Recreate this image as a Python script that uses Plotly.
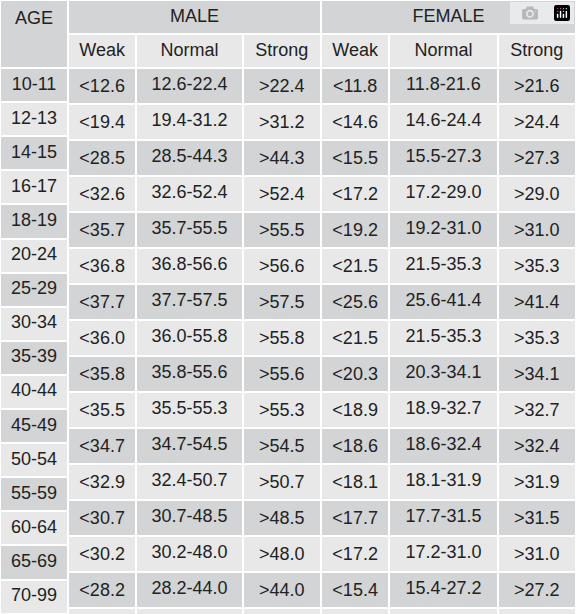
import plotly.graph_objects as go

ages = ["10-11", "12-13", "14-15", "16-17", "18-19", "20-24", "25-29", "30-34",
        "35-39", "40-44", "45-49", "50-54", "55-59", "60-64", "65-69", "70-99"]
male_weak = ["<12.6", "<19.4", "<28.5", "<32.6", "<35.7", "<36.8", "<37.7", "<36.0",
             "<35.8", "<35.5", "<34.7", "<32.9", "<30.7", "<30.2", "<28.2", "<21.3"]
male_normal = ["12.6-22.4", "19.4-31.2", "28.5-44.3", "32.6-52.4", "35.7-55.5", "36.8-56.6",
               "37.7-57.5", "36.0-55.8", "35.8-55.6", "35.5-55.3", "34.7-54.5", "32.4-50.7",
               "30.7-48.5", "30.2-48.0", "28.2-44.0", "21.3-35.1"]
male_strong = [">22.4", ">31.2", ">44.3", ">52.4", ">55.5", ">56.6", ">57.5", ">55.8",
               ">55.6", ">55.3", ">54.5", ">50.7", ">48.5", ">48.0", ">44.0", ">35.1"]
female_weak = ["<11.8", "<14.6", "<15.5", "<17.2", "<19.2", "<21.5", "<25.6", "<21.5",
               "<20.3", "<18.9", "<18.6", "<18.1", "<17.7", "<17.2", "<15.4", "<14.7"]
female_normal = ["11.8-21.6", "14.6-24.4", "15.5-27.3", "17.2-29.0", "19.2-31.0", "21.5-35.3",
                 "25.6-41.4", "21.5-35.3", "20.3-34.1", "18.9-32.7", "18.6-32.4", "18.1-31.9",
                 "17.7-31.5", "17.2-31.0", "15.4-27.2", "14.7-24.5"]
female_strong = [">21.6", ">24.4", ">27.3", ">29.0", ">31.0", ">35.3", ">41.4", ">35.3",
                 ">34.1", ">32.7", ">32.4", ">31.9", ">31.5", ">31.0", ">27.2", ">24.5"]
groups = ["MALE", "FEMALE"]
sub_headers = ["Weak", "Normal", "Strong", "Weak", "Normal", "Strong"]

DARK = "#d3d4d6"
LIGHT = "#e8e8e9"
TXT = "#222222"
W, H = 576, 614
font = dict(family="Liberation Sans, Arial", size=18, color=TXT)
row_fill = [DARK if i % 2 == 0 else LIGHT for i in range(len(ages))]
line = dict(color="white", width=2)

fig = go.Figure()

# age column, header spans both header rows
fig.add_trace(go.Table(
    domain=dict(x=[0, 68 / W], y=[0, 1]),
    columnwidth=[68],
    header=dict(values=["<br>AGE"], fill_color=DARK, font=font, align="center",
                height=68, line=line),
    cells=dict(values=[ages], fill_color=[row_fill], font=font, align="center",
               height=34.1, line=line),
))

# MALE / FEMALE group header
fig.add_trace(go.Table(
    domain=dict(x=[68 / W, 1], y=[1 - 34 / H, 1]),
    columnwidth=[252, 254],
    header=dict(values=groups, fill_color=DARK, font=font, align="center",
                height=34, line=line),
    cells=dict(values=[[], []]),
))

cols = [male_weak, male_normal, male_strong, female_weak, female_normal, female_strong]
fig.add_trace(go.Table(
    domain=dict(x=[68 / W, 1], y=[0, 1 - 34 / H]),
    columnwidth=[68, 106, 78, 68, 108, 78],
    header=dict(values=sub_headers, fill_color=LIGHT, font=font, align="center",
                height=34, line=line),
    cells=dict(values=cols, fill_color=[row_fill] * 6, font=font, align="center",
               height=34.1, line=line),
))

fig.update_layout(width=W, height=H, margin=dict(l=0, r=0, t=0, b=0),
                  paper_bgcolor="white")
fig.write_html("out.html", post_script="document.body.style.margin='0';")
